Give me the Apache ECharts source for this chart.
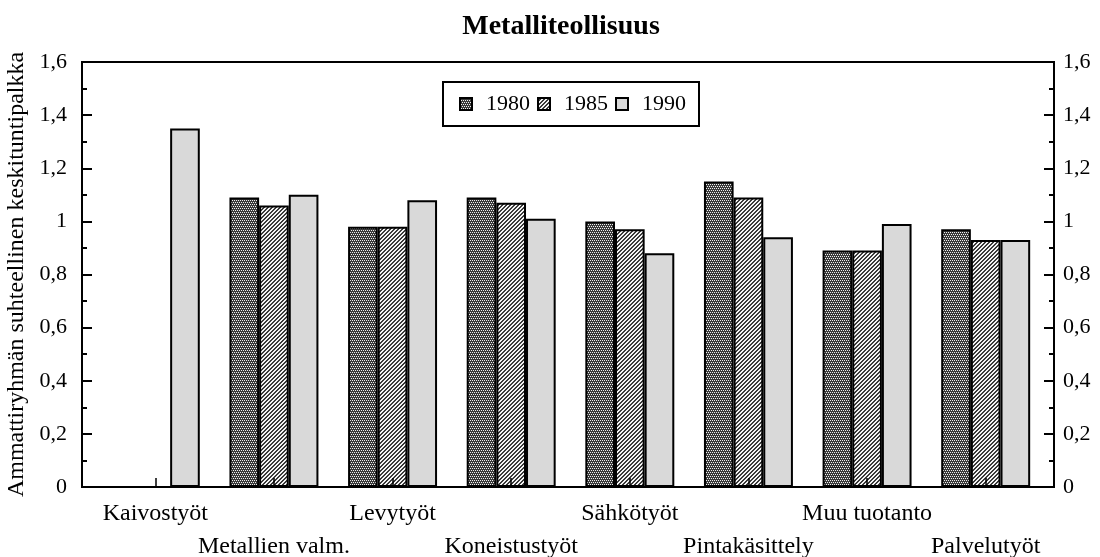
<!DOCTYPE html>
<html>
<head>
<meta charset="utf-8">
<script src="https://cdn.jsdelivr.net/npm/echarts@6/dist/echarts.min.js"></script>
<style>
  html, body { margin: 0; padding: 0; background: #fff; }
  #main { width: 1100px; height: 557px; }
</style>
</head>
<body>
<div id="main"></div>
<script>
  // ammattiryhmät
  var categories = ['Kaivostyöt', 'Metallien valm.', 'Levytyöt', 'Koneistustyöt', 'Sähkötyöt', 'Pintakäsittely', 'Muu tuotanto', 'Palvelutyöt']
  var years = ['1980', '1985', '1990']
  var data1980 = [null, 1.09, 0.98, 1.09, 1.00, 1.15, 0.89, 0.97]
  var data1985 = [null, 1.06, 0.98, 1.07, 0.97, 1.09, 0.89, 0.93]
  var data1990 = [1.35, 1.10, 1.08, 1.01, 0.88, 0.94, 0.99, 0.93]
  var yTicks = [0, 0.2, 0.4, 0.6, 0.8, 1, 1.2, 1.4, 1.6]

  var font = 'Liberation Serif'

  // kuviot pylväisiin
  function makePattern(kind) {
    var c = document.createElement('canvas')
    c.width = 4
    c.height = 4
    var ctx = c.getContext('2d')
    if (kind === 'check') {
      ctx.fillStyle = '#3a3a3a'
      ctx.fillRect(0, 0, 4, 4)
      ctx.fillStyle = '#f0f0f0'
      ctx.fillRect(0, 0, 1, 1)
      ctx.fillRect(2, 0, 1, 1)
      ctx.fillRect(1, 2, 1, 1)
      ctx.fillRect(3, 2, 1, 1)
    } else if (kind === 'hatch') {
      ctx.fillStyle = '#f4f4f4'
      ctx.fillRect(0, 0, 4, 4)
      ctx.fillStyle = '#3a3a3a'
      for (var x = 0; x < 4; x++) {
        for (var y = 0; y < 4; y++) {
          var m = (x + y) % 4
          if (m === 2 || m === 3) ctx.fillRect(x, y, 1, 1)
        }
      }
    } else {
      ctx.fillStyle = '#d9d9d9'
      ctx.fillRect(0, 0, 4, 4)
    }
    return { image: c, repeat: 'repeat' }
  }

  var fills = [makePattern('check'), makePattern('hatch'), makePattern('plain')]
  var seriesData = [data1980, data1985, data1990]

  var charts = echarts.init(document.getElementById('main'))

  var fmt = function (v) {
    return String(+v.toFixed(1)).replace('.', ',')
  }

  var yCommon = {
    type: 'value',
    gridIndex: 0,
    min: yTicks[0],
    max: yTicks[yTicks.length - 1],
    interval: 0.2,
    splitLine: { show: false },
    axisLine: { show: true, lineStyle: { color: '#000', width: 2 } },
    axisTick: { show: true, inside: true, length: 10, lineStyle: { color: '#000', width: 2 } },
    minorTick: { show: true, splitNumber: 2, length: 5, lineStyle: { color: '#000', width: 2 } },
    axisLabel: { formatter: fmt, color: '#000', fontFamily: font, fontSize: 22, margin: 15 }
  }

  var obj = {
    backgroundColor: '#fff',
    animation: false,
    title: {
      text: 'Metalliteollisuus',
      left: 556,
      top: 8,
      textAlign: 'center',
      textStyle: { fontFamily: font, fontWeight: 'bold', fontSize: 28, color: '#000' }
    },
    legend: {
      data: years,
      left: 443,
      top: 82,
      orient: 'horizontal',
      borderColor: '#000',
      borderWidth: 2,
      padding: [11, 13, 11, 16],
      itemGap: 7,
      itemWidth: 12,
      itemHeight: 12,
      icon: 'rect',
      textStyle: { fontFamily: font, fontSize: 22, color: '#000', padding: [0, 0, 0, 9] }
    },
    grid: [
      { left: 82, right: 46, top: 62, bottom: 70, outerBoundsMode: 'none', show: true, borderColor: '#000', borderWidth: 2 },
      { left: 96, right: 55, top: 62, bottom: 70, outerBoundsMode: 'none' }
    ],
    xAxis: [
      { type: 'value', gridIndex: 0, show: false },
      {
        type: 'category',
        gridIndex: 1,
        data: categories,
        z: 5,
        axisLine: { show: false },
        axisTick: { show: true, alignWithLabel: true, inside: true, length: 9, lineStyle: { color: '#000', width: 1.5 } },
        axisLabel: {
          interval: 0,
          margin: 10,
          color: '#000',
          fontFamily: font,
          fontSize: 24,
          lineHeight: 33,
          formatter: function (v, i) { return i % 2 ? '\n' + v : v }
        }
      }
    ],
    yAxis: [
      Object.assign({}, yCommon, {
        position: 'left',
        name: 'Ammattiryhmän suhteellinen keskituntipalkka',
        nameLocation: 'middle',
        nameRotate: 90,
        nameGap: 43,
        nameTextStyle: { fontFamily: font, fontSize: 24, color: '#000' }
      }),
      Object.assign({}, yCommon, {
        position: 'right',
        axisLabel: Object.assign({}, yCommon.axisLabel, { margin: 9 })
      }),
      { type: 'value', gridIndex: 1, min: 0, max: 1.6, show: false }
    ],
    series: []
  }

  for (var e = 0; e < years.length; e++) {
    obj.series.push({
      name: years[e],
      type: 'bar',
      xAxisIndex: 1,
      yAxisIndex: 2,
      barGap: '0%',
      barCategoryGap: '25%',
      data: seriesData[e],
      itemStyle: { color: fills[e], borderColor: '#000', borderWidth: 2 }
    })
  }

  charts.setOption(obj, true)
</script>
</body>
</html>
